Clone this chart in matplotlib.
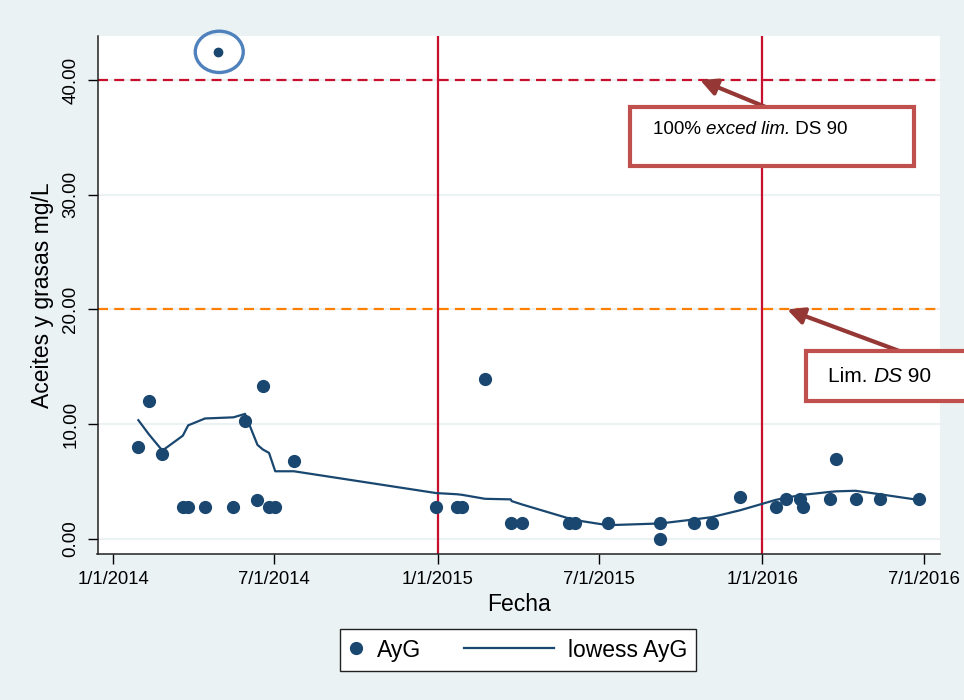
import numpy as np
import pandas as pd
import matplotlib
matplotlib.use("Agg")
import matplotlib.pyplot as plt
import matplotlib.dates as mdates
from matplotlib.patches import Ellipse, Rectangle
from matplotlib.lines import Line2D
from matplotlib.text import Annotation
from matplotlib.legend_handler import HandlerLine2D

plt.rcParams['font.family'] = ['Liberation Sans', 'DejaVu Sans']

# oil & grease samples (mg/L)
fechas = ['2014-01-29', '2014-02-10', '2014-02-25', '2014-03-20', '2014-03-26',
          '2014-04-14', '2014-05-16', '2014-05-29', '2014-06-12', '2014-06-18',
          '2014-06-25', '2014-07-02', '2014-07-23', '2014-12-30', '2015-01-22',
          '2015-01-28', '2015-02-23', '2015-03-24', '2015-04-06', '2015-05-28',
          '2015-06-04', '2015-07-11', '2015-09-08', '2015-09-08', '2015-10-16',
          '2015-11-05', '2015-12-07', '2016-01-16', '2016-01-28', '2016-02-12',
          '2016-02-16', '2016-03-17', '2016-03-24', '2016-04-15', '2016-05-12',
          '2016-06-25']
ayg = [8.0, 12.0, 7.4, 2.8, 2.8,
       2.8, 2.8, 10.3, 3.4, 13.3,
       2.8, 2.8, 6.8, 2.8, 2.8,
       2.8, 13.9, 1.4, 1.4, 1.4,
       1.4, 1.4, 1.4, 0.0, 1.4,
       1.4, 3.7, 2.8, 3.5, 3.5,
       2.8, 3.5, 7.0, 3.5, 3.5,
       3.5]

# high reading circled at the top
fecha_alta = ['2014-04-29']
ayg_alta = [42.4]

# lowess smooth
fechas_low = ['2014-01-29', '2014-02-10', '2014-02-25', '2014-03-20', '2014-03-26',
              '2014-04-14', '2014-05-16', '2014-05-29', '2014-06-12', '2014-06-18',
              '2014-06-25', '2014-07-02', '2014-07-23', '2014-12-30', '2015-01-22',
              '2015-01-28', '2015-02-23', '2015-03-24', '2015-03-25', '2015-04-06',
              '2015-05-28', '2015-06-04', '2015-07-11', '2015-09-08', '2015-10-16',
              '2015-11-05', '2015-12-07', '2016-01-16', '2016-01-28', '2016-02-12',
              '2016-02-16', '2016-03-17', '2016-03-24', '2016-04-15', '2016-05-12',
              '2016-06-25']
lowess = [10.35, 9.1, 7.7, 9.0, 9.9,
          10.5, 10.6, 10.9, 8.2, 7.8,
          7.5, 5.9, 5.9, 4.0, 3.9,
          3.85, 3.5, 3.45, 3.3, 3.0,
          1.8, 1.65, 1.2, 1.35, 1.7,
          1.9, 2.5, 3.4, 3.6, 3.8,
          3.85, 4.1, 4.15, 4.2, 3.9,
          3.4]

lim_ds90 = 20
lim_100 = 40
cortes = ['2015-01-01', '2016-01-01']
xticks = ['2014-01-01', '2014-07-01', '2015-01-01', '2015-07-01', '2016-01-01', '2016-07-01']
yticks = [0, 10, 20, 30, 40]

navy = '#1A476F'
rojo = '#C8102E'
naranja = '#FF8000'
fondo = '#EAF2F3'
caja = '#C0504D'
flecha = '#953735'

fig = plt.figure(figsize=(9.64, 7), dpi=100, facecolor=fondo)
ax = fig.add_axes([97.5 / 964, 146 / 700, 842.5 / 964, 518 / 700])
ax.set_facecolor('white')

x = pd.to_datetime(fechas)
x_low = pd.to_datetime(fechas_low)

for y in yticks:
    ax.axhline(y, color=fondo, lw=1.5, zorder=0)

ax.axhline(lim_100, color=rojo, lw=1.6, dashes=(4.5, 2.8), zorder=1)
ax.axhline(lim_ds90, color=naranja, lw=1.6, dashes=(4.5, 2.8), zorder=1)
for c in cortes:
    ax.axvline(pd.Timestamp(c), color=rojo, lw=1.6, zorder=1)

ax.plot(x, ayg, 'o', color=navy, ms=8.5, zorder=3)
ax.plot(pd.to_datetime(fecha_alta), ayg_alta, 'o', color=navy, ms=6, zorder=3)
ax.plot(x_low, lowess, '-', color=navy, lw=1.6, zorder=2)

# circle around the high reading
xc = mdates.date2num(pd.Timestamp(fecha_alta[0]))
ax.add_patch(Ellipse((xc + 1, ayg_alta[0] + 0.05), 54, 3.6, fill=False,
                     edgecolor='#4F81BD', lw=2.4, zorder=4, clip_on=False))

ax.set_xlim(pd.Timestamp('2013-12-14'), pd.Timestamp('2016-07-19'))
ax.set_ylim(-1.31, 43.83)
ax.set_xticks(pd.to_datetime(xticks))
ax.set_xticklabels([f"{d.month}/{d.day}/{d.year}" for d in pd.to_datetime(xticks)])
ax.set_yticks(yticks)
ax.set_yticklabels([f"{v:.2f}" for v in yticks], rotation=90, va='center')

ax.tick_params(axis='x', length=7, width=1, pad=5, labelsize=13.3)
ax.tick_params(axis='y', length=7, width=1, pad=6, labelsize=13.5)
for s in ['top', 'right']:
    ax.spines[s].set_visible(False)
for s in ['left', 'bottom']:
    ax.spines[s].set_color('#222222')
    ax.spines[s].set_linewidth(1.1)

ax.set_xlabel('Fecha', fontsize=16.5, labelpad=4)
ax.set_ylabel('Aceites y grasas mg/L', fontsize=16.5, labelpad=6)


class MarcaCorta(HandlerLine2D):
    def legend_artist(self, legend, orig_handle, fontsize, handlebox):
        handlebox.width = 0.6 * fontsize
        return super().legend_artist(legend, orig_handle, fontsize, handlebox)


h_pts = Line2D([], [], ls='none', marker='o', color=navy, ms=8.5)
h_low = Line2D([], [], color=navy, lw=1.6)
leg = fig.legend([h_pts, h_low], ['AyG', 'lowess AyG'], ncol=2,
                 loc='center', bbox_to_anchor=(518 / 964, 1 - 650 / 700),
                 fontsize=16.5, frameon=True, fancybox=False, framealpha=1,
                 edgecolor='#222222', handlelength=3.9, handletextpad=0.6,
                 columnspacing=1.9, borderpad=0.4,
                 handler_map={h_pts: MarcaCorta(numpoints=1)})
leg.get_frame().set_linewidth(1.0)


def texto_mixto(x0, y0, partes, size):
    # write pieces one after another, each starting where the last one ends
    prev = fig.text(x0, y0, partes[0][0], fontstyle=partes[0][1],
                    fontsize=size, va='center', ha='left', zorder=6)
    for txt, estilo in partes[1:]:
        prev = fig.add_artist(Annotation(txt, xy=(1, 0.5), xycoords=prev,
                                         va='center', ha='left', fontstyle=estilo,
                                         fontsize=size, zorder=6))


# callout boxes
fig.add_artist(Rectangle((630 / 964, 1 - 166 / 700), 284 / 964, 59 / 700,
                         transform=fig.transFigure, facecolor='white',
                         edgecolor=caja, lw=3, zorder=5))
texto_mixto(653 / 964, 1 - 130 / 700,
            [('100% ', 'normal'), ('exced lim.', 'italic'), (' DS 90', 'normal')], 13.5)
ax.annotate('', xy=(pd.Timestamp('2015-10-23'), lim_100),
            xytext=(768 / 964, 1 - 108 / 700), textcoords='figure fraction',
            arrowprops=dict(arrowstyle='-|>,head_length=1.0,head_width=0.5',
                            color=flecha, lw=3, shrinkA=0, shrinkB=0),
            zorder=7, annotation_clip=False)

fig.add_artist(Rectangle((806 / 964, 1 - 401 / 700), 200 / 964, 50 / 700,
                         transform=fig.transFigure, facecolor='white',
                         edgecolor=caja, lw=3, zorder=5))
texto_mixto(828 / 964, 1 - 376 / 700,
            [('Lim. ', 'normal'), ('DS', 'italic'), (' 90', 'normal')], 15)
ax.annotate('', xy=(pd.Timestamp('2016-01-29'), lim_ds90),
            xytext=(902 / 964, 1 - 352 / 700), textcoords='figure fraction',
            arrowprops=dict(arrowstyle='-|>,head_length=1.0,head_width=0.5',
                            color=flecha, lw=3, shrinkA=0, shrinkB=0),
            zorder=7, annotation_clip=False)

fig.savefig('out.png', dpi=100, facecolor=fondo)
